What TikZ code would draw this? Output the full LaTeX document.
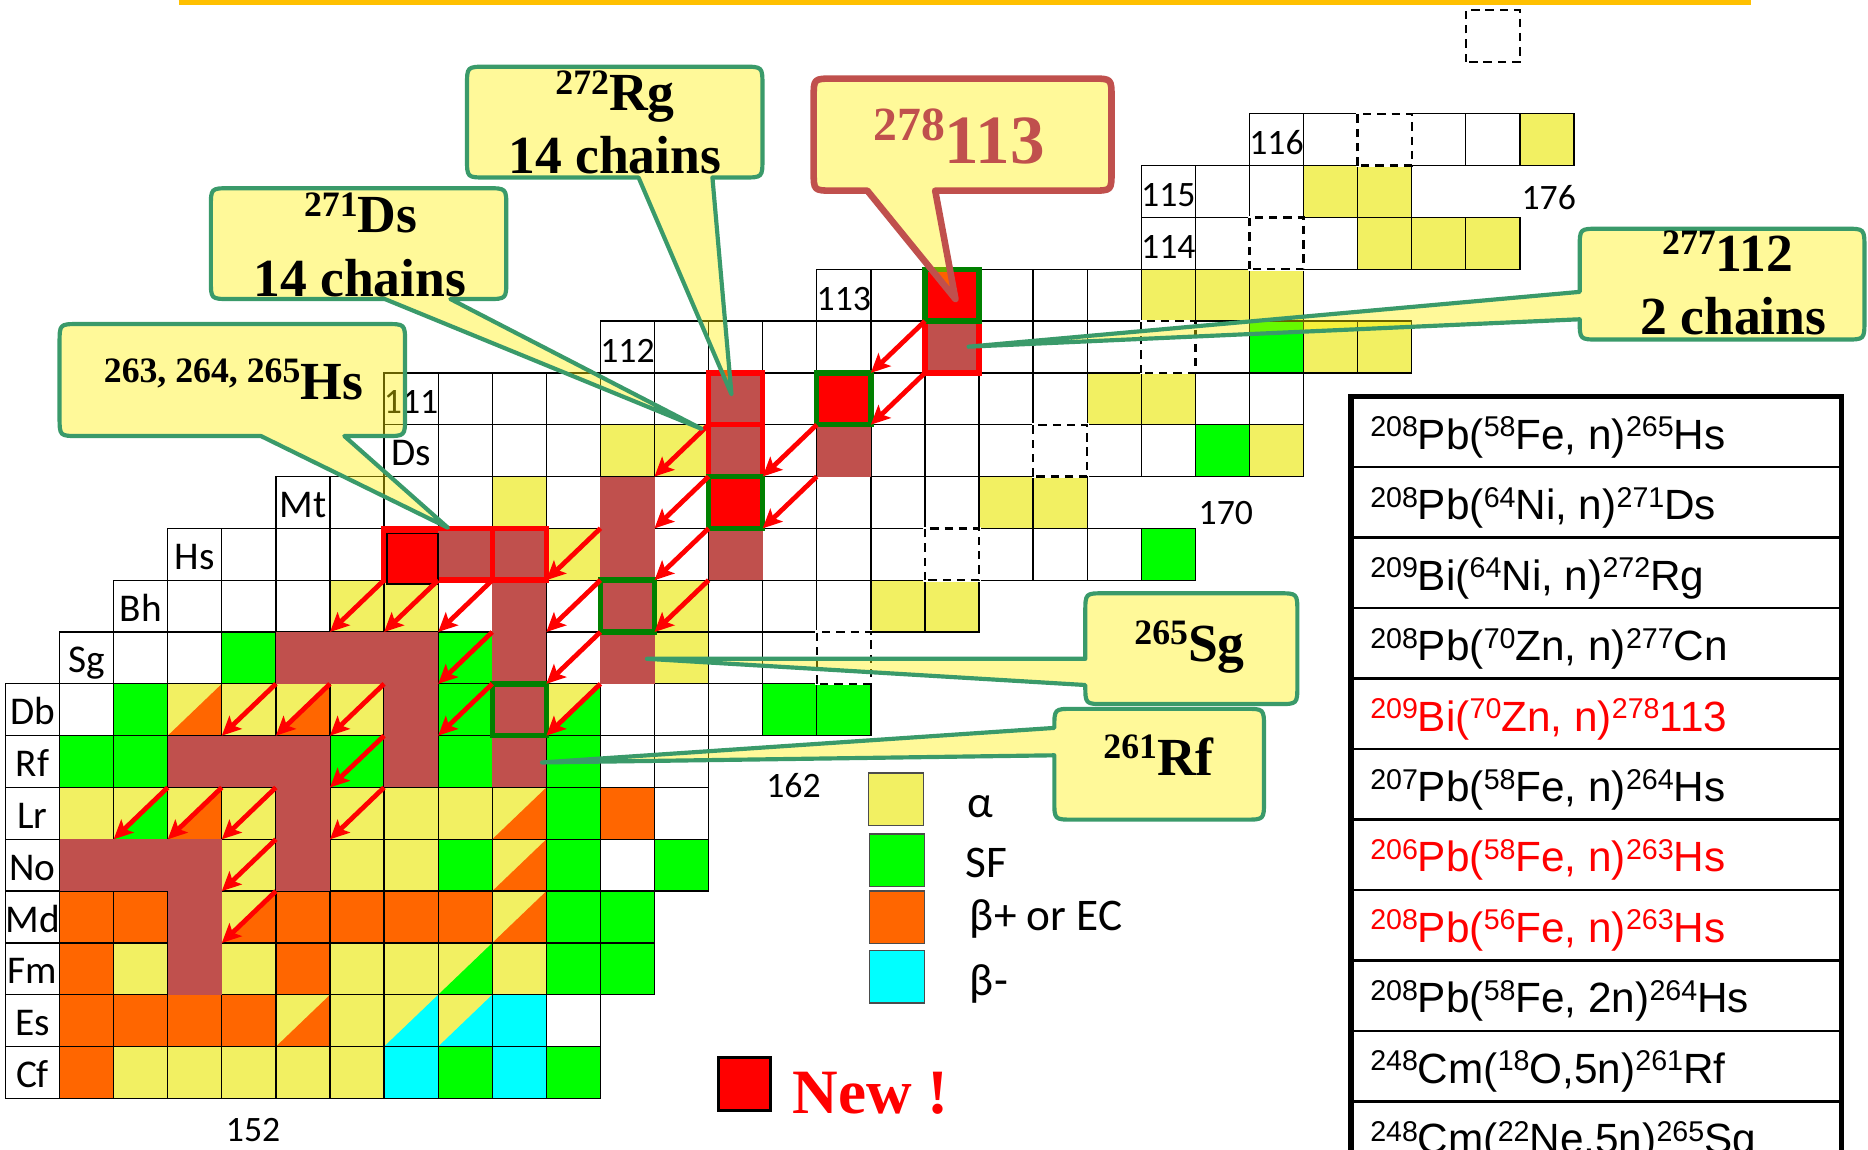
\documentclass[tikz,border=0pt]{standalone}
\usepackage{fontspec}
\setmainfont{Liberation Serif}
\newfontfamily\calib{Carlito}
\newfontfamily\arialf{Liberation Sans}
\newfontfamily\timesf{Liberation Serif}
\usetikzlibrary{arrows.meta}

\definecolor{cyel}{HTML}{F2F062}
\definecolor{cgrn}{HTML}{00FF00}
\definecolor{corg}{HTML}{FF6600}
\definecolor{ccyn}{HTML}{00FFFF}
\definecolor{cbrown}{HTML}{C0504D}
\definecolor{cfgreen}{HTML}{008000}
\definecolor{ccall}{HTML}{3A9A6A}
\definecolor{cgold}{HTML}{FFC000}

\newcommand\csz[1]{\fontsize{#1}{#1}\selectfont}
\newcommand\tsup[1]{\raisebox{10.5pt}{\csz{24}#1}}
\newcommand\csup[1]{\raisebox{14pt}{\csz{30}#1}}

% rounded callout box with a tail leaving the bottom edge
% x1 y1 x2 y2 base-x1 base-x2 tip-x tip-y style
\newcommand\calloutdown[9]{\draw[#9] (#1+16,#2) -- (#3-16,#2) .. controls (#3,#2) .. (#3,#2+16)
  -- (#3,#4-16) .. controls (#3,#4) .. (#3-16,#4) -- (#6,#4) -- (#7,#8) -- (#5,#4)
  -- (#1+16,#4) .. controls (#1,#4) .. (#1,#4-16) -- (#1,#2+16) .. controls (#1,#2) .. (#1+16,#2) -- cycle;}
% rounded callout box with a tail leaving the left edge
% x1 y1 x2 y2 base-y1 base-y2 tip-x tip-y style
\newcommand\calloutleft[9]{\draw[#9] (#1+16,#2) -- (#3-16,#2) .. controls (#3,#2) .. (#3,#2+16)
  -- (#3,#4-16) .. controls (#3,#4) .. (#3-16,#4) -- (#1+16,#4) .. controls (#1,#4) .. (#1,#4-16)
  -- (#1,#6) -- (#7,#8) -- (#1,#5) -- (#1,#2+16) .. controls (#1,#2) .. (#1+16,#2) -- cycle;}

\tikzset{
  cellline/.style={draw=black, line width=1.1pt},
  dashcell/.style={draw=black, line width=2pt, dash pattern=on 7pt off 5pt},
  alphaarrow/.style={draw=red, line width=4pt, -{Stealth[length=16pt,width=15pt,inset=3.5pt]}},
  gframe/.style={draw=cfgreen, line width=4.5pt},
  rframe/.style={draw=red, line width=4.5pt},
  callout/.style={draw=ccall, line width=3.5pt, fill=yellow, fill opacity=0.4, line join=round},
  calloutred/.style={draw=cbrown, line width=5.5pt, fill=yellow, fill opacity=0.4, line join=round},
  elabel/.style={font=\calib\csz{33}, anchor=base},
  nlabel/.style={font=\calib\csz{30}, anchor=base},
  legendbox/.style={draw=black!70, line width=1.2pt},
  legendtext/.style={font=\calib\csz{38}, anchor=base west},
  reaction/.style={font=\arialf\csz{35.5}, anchor=base west},
  ctext/.style={font=\timesf\bfseries, anchor=base west},
  ctextc/.style={font=\timesf\bfseries\csz{45}, anchor=base},
}

\begin{document}
\begin{tikzpicture}[x=1pt,y=-1pt,inner sep=0pt]
\useasboundingbox (0,0) rectangle (1568,965);
\fill[white] (0,0) rectangle (1568,965);
\clip (0,0) rectangle (1568,965);

% gold rule along the top
\draw[cgold, line width=4pt] (150,2) -- (1470,2);

% ---------------- chart of nuclides (column = N-149, row = Z-98) ----------------
\begin{scope}[shift={(50,922)}]
\begin{scope}[x=45.4pt,y=43.5pt]
  % alpha emitters
  \foreach \c/\r in {1/0,2/0,3/0,4/0,5/0, 4/1,5/1,6/1,7/1, 1/2,3/2,5/2,6/2,7/2,8/2,
      3/3,8/3, 3/4,5/4,6/4,8/4, 0/5,1/5,2/5,3/5,5/5,6/5,7/5,8/5, 2/7,3/7,4/7,5/7,9/7,
      11/8, 5/9,6/9,11/9,15/9,16/9, 9/10, 8/11,17/11,18/11, 10/12,11/12,22/12,
      19/13,20/13, 23/14,24/14, 20/15,21/15,22/15, 24/16,25/16,26/16, 23/17,24/17, 27/18}
    \fill[cyel] (\c,\r) rectangle ++(1,1);
  % spontaneous fission
  \foreach \c/\r in {7/0,9/0, 9/2,10/2, 9/3,10/3, 7/4,9/4,11/4, 9/5, 0/6,1/6,5/6,7/6,9/6,
      1/7,7/7,13/7,14/7, 3/8,7/8, 20/10, 21/12, 22/14}
    \fill[cgrn] (\c,\r) rectangle ++(1,1);
  % beta+ / EC
  \foreach \c/\r in {0/0, 0/1,1/1,2/1,3/1, 0/2,4/2, 0/3,1/3,4/3,5/3,6/3,7/3, 10/5}
    \fill[corg] (\c,\r) rectangle ++(1,1);
  % beta-
  \foreach \c/\r in {6/0,8/0,8/1}
    \fill[ccyn] (\c,\r) rectangle ++(1,1);
  % mixed decay modes: lower-right half
  \foreach \c/\r/\k in {4/1/corg,6/1/ccyn,7/1/ccyn,7/2/cgrn,3/3/corg,8/3/corg,8/4/corg,
      1/5/cgrn,2/5/corg,8/5/corg,2/7/corg,4/7/corg,9/7/cgrn}
    \fill[\k] (\c,\r) -- ++(1,0) -- ++(0,1) -- cycle;
  % cell borders, row by row
  \foreach \r/\a/\b in {0/-1/9,1/-1/9,2/-1/10,3/-1/10,4/-1/11,5/-1/11,6/-1/11,7/-1/14,
      8/0/13,9/1/16,10/2/20,11/4/18,12/6/22,13/6/22,14/10/24,15/14/22,16/20/26,17/20/24,18/22/27}
    {\foreach \c in {\a,...,\b} {\draw[cellline] (\c,\r) rectangle ++(1,1);}}
  % predicted (unobserved) cells
  \foreach \c/\r in {14/8,16/10,18/12,20/14,22/16,24/18,26/20} {
    \fill[white] (\c-0.03,\r-0.03) rectangle (\c+1.03,\r+1.03);
    \draw[dashcell] (\c,\r) rectangle ++(1,1);
  }
  % element and proton-number labels
  \foreach \c/\r/\t in {-1/0/Cf,-1/1/Es,-1/2/Fm,-1/3/Md,-1/4/No,-1/5/Lr,-1/6/Rf,-1/7/Db,
      0/8/Sg,1/9/Bh,2/10/Hs,4/11/Mt,6/12/Ds}
    \node[elabel] (lab-\t) at (\c+0.5,\r+0.21) {\t};
  \foreach \c/\r/\t in {6/13/111,10/14/112,14/15/113,20/16/114,20/17/115,22/18/116}
    \node[nlabel] (lab-\t) at (\c+0.5,\r+0.21) {\t};

  % observed decay chains
  \fill[cbrown] (0,4) rectangle (3,5);
  \fill[cbrown] (2,2) rectangle (3,5);
  \fill[cbrown] (2,6) rectangle (5,7);
  \fill[cbrown] (4,4) rectangle (5,7);
  \fill[cbrown] (4,8) rectangle (7,9);
  \fill[cbrown] (6,6) rectangle (7,9);
  \fill[cbrown] (8,6) rectangle (9,11);
  \fill[cbrown] (7,10) rectangle (8,11);
  \fill[cbrown] (10,8) rectangle (11,12);
  \fill[cbrown] (12,10) rectangle (13,14);
  \fill[cbrown] (14,12) rectangle (15,13);
  \fill[cbrown] (16,14) rectangle (17,15);
  % newly observed nuclei
  \foreach \c/\r in {6/10,12/11,14/13,16/15}
    \fill[red] (\c,\r) rectangle ++(1,1);
  % frames
  \draw[rframe] (16,14) rectangle (17,15);
  \draw[rframe] (12,13) rectangle (13,14);
  \draw[rframe] (12,12) rectangle (13,13);
  \draw[rframe] (6,10) rectangle (8,11);
  \draw[rframe] (8,10) rectangle (9,11);
  \draw[black, line width=1.6pt] (6.05,9.93) rectangle (7.0,10.9);
  \foreach \c/\r in {16/15,14/13,12/11,10/9,8/7}
    \draw[gframe] (\c,\r) rectangle ++(1,1);
  % alpha decays
  \foreach \c/\r in {16/15,16/14,14/13,14/12,12/13,12/12,12/11,12/10,10/11,10/10,10/9,10/8,
      8/10,8/9,8/8,7/10,6/10,6/8,6/7,6/6,5/8,4/8,4/6,4/5,4/4,3/6,2/6}
    \draw[alphaarrow] (\c,\r) -- (\c-1,\r-1);
\end{scope}
\end{scope}

% neutron numbers
\node[nlabel] (n152) at (212.5,958) {152};
\node[nlabel] (n162) at (666,669) {162};
\node[nlabel] (n170) at (1029,440) {170};
\node[nlabel] (n176) at (1300,176) {176};

% ---------------- callouts ----------------
\calloutdown{50}{272}{340}{366}{219}{289}{376}{443}{callout}
\node[ctext] (c-hs) at (87,335) {\csup{263, 264, 265}\csz{45}Hs};

\calloutdown{177}{158}{425}{251}{323}{378}{589}{360}{callout}
\node[ctext] (c-ds) at (255,195.5) {\csup{271}\csz{45}Ds};
\node[ctextc] (c-ds2) at (302,249) {14 chains};

\calloutdown{392}{56}{640}{149}{536}{598}{614}{331}{callout}
\node[ctext] (c-rg) at (466,93) {\csup{272}\csz{45}Rg};
\node[ctextc] (c-rg2) at (516,146) {14 chains};

\calloutdown{683}{66}{933}{160}{728}{785}{802}{251}{calloutred}
\node[ctext, text=cbrown] (c-113) at (733,137) {\raisebox{19pt}{\csz{40}278}\csz{58}113};

\calloutleft{1326}{192}{1565}{285}{245}{268}{813}{291}{callout}
\node[ctext] (c-112) at (1395,228) {\csup{277}\csz{45}112};
\node[ctextc] (c-1122) at (1455,281) {2 chains};

\calloutleft{911}{498}{1089}{591}{553}{575}{543}{553}{callout}
\node[ctext] (c-sg) at (952,555) {\csup{265}\csz{45}Sg};

\calloutleft{885}{595}{1061}{688}{611}{634}{455}{640}{callout}
\node[ctext] (c-rf) at (926,651) {\csup{261}\csz{45}Rf};

% ---------------- legend ----------------
\draw[legendbox, fill=cyel] (729,649) rectangle (775,693);
\draw[legendbox, fill=cgrn] (730,700) rectangle (776,744);
\draw[legendbox, fill=corg] (730,748) rectangle (776,792);
\draw[legendbox, fill=ccyn] (730,798) rectangle (776,842);
\node[legendtext] (lg-a) at (812,686) {α};
\node[legendtext] (lg-sf) at (810,736.5) {SF};
\node[legendtext] (lg-bp) at (814,781) {β+ or EC};
\node[legendtext] (lg-bm) at (814,836) {β-};

\draw[black, line width=2.5pt, fill=red] (603,888) rectangle (647,932);
\node[ctext, text=red] (lg-new) at (665,935) {\csz{53}New !};

% ---------------- table of reactions ----------------
\foreach \y in {392.2,451.3,510.5,569.6,628.8,687.9,747.1,806.2,865.4,924.5}
  \draw[black, line width=2pt] (1134,\y) -- (1546,\y);
\draw[black, line width=4.5pt] (1134,333) rectangle (1546,1000);
\node[reaction] (r1) at (1150,377) {\tsup{208}Pb(\tsup{58}Fe, n)\tsup{265}Hs};
\node[reaction] (r2) at (1150,436.2) {\tsup{208}Pb(\tsup{64}Ni, n)\tsup{271}Ds};
\node[reaction] (r3) at (1150,495.3) {\tsup{209}Bi(\tsup{64}Ni, n)\tsup{272}Rg};
\node[reaction] (r4) at (1150,554.5) {\tsup{208}Pb(\tsup{70}Zn, n)\tsup{277}Cn};
\node[reaction, text=red] (r5) at (1150,613.6) {\tsup{209}Bi(\tsup{70}Zn, n)\tsup{278}113};
\node[reaction] (r6) at (1150,672.8) {\tsup{207}Pb(\tsup{58}Fe, n)\tsup{264}Hs};
\node[reaction, text=red] (r7) at (1150,731.9) {\tsup{206}Pb(\tsup{58}Fe, n)\tsup{263}Hs};
\node[reaction, text=red] (r8) at (1150,791.1) {\tsup{208}Pb(\tsup{56}Fe, n)\tsup{263}Hs};
\node[reaction] (r9) at (1150,850.2) {\tsup{208}Pb(\tsup{58}Fe, 2n)\tsup{264}Hs};
\node[reaction] (r10) at (1150,909.4) {\tsup{248}Cm(\tsup{18}O,5n)\tsup{261}Rf};
\node[reaction] (r11) at (1150,968.5) {\tsup{248}Cm(\tsup{22}Ne,5n)\tsup{265}Sg};
\end{tikzpicture}
\end{document}
